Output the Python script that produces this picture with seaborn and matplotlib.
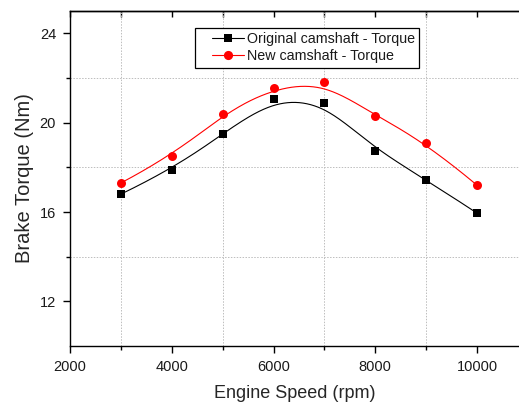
import numpy as np
import pandas as pd
import matplotlib
matplotlib.use("Agg")
import matplotlib.pyplot as plt
import seaborn as sns
from matplotlib.lines import Line2D
from matplotlib.legend_handler import HandlerLine2D
from matplotlib.ticker import FixedLocator

# Measured brake torque at each engine speed
speed_rpm = [3000, 4000, 5000, 6000, 7000, 8000, 9000, 10000]
torque_original = [16.8, 17.9, 19.5, 21.05, 20.9, 18.75, 17.45, 15.95]
torque_new = [17.3, 18.5, 20.4, 21.55, 21.8, 20.3, 19.1, 17.2]
series_labels = ["Original camshaft - Torque", "New camshaft - Torque"]
series_colors = ["black", "#ff0000"]
series_markers = ["s", "o"]


def bspline(xc, yc, n=400, k=3):
    """Clamped uniform cubic B-spline using the data points as control points."""
    P = np.column_stack([xc, yc]).astype(float)
    m = len(P)
    knots = np.concatenate([np.zeros(k), np.arange(m - k + 1),
                            np.full(k, m - k)]).astype(float)
    t = np.linspace(0, m - k, n)
    t[-1] -= 1e-9
    N = np.zeros((n, len(knots) - 1))
    for i in range(len(knots) - 1):
        N[:, i] = (knots[i] <= t) & (t < knots[i + 1])
    for d in range(1, k + 1):
        Nn = np.zeros((n, len(knots) - 1 - d))
        for i in range(len(knots) - 1 - d):
            left = 0.0
            right = 0.0
            den1 = knots[i + d] - knots[i]
            den2 = knots[i + d + 1] - knots[i + 1]
            if den1 > 0:
                left = (t - knots[i]) / den1 * N[:, i]
            if den2 > 0:
                right = (knots[i + d + 1] - t) / den2 * N[:, i + 1]
            Nn[:, i] = left + right
        N = Nn
    C = N @ P
    return C[:, 0], C[:, 1]


sns.set_theme(style="ticks")
plt.rcParams["font.family"] = ["Liberation Sans", "DejaVu Sans"]
plt.rcParams["axes.edgecolor"] = "black"
plt.rcParams["text.color"] = "#1a1a1a"

fig = plt.figure(figsize=(5.19, 4.04), dpi=100)
ax = fig.add_axes([70 / 519, 1 - 346 / 404, 1 - 70 / 519, (346 - 11) / 404])

points = pd.DataFrame({
    "speed": speed_rpm * 2,
    "torque": torque_original + torque_new,
    "series": [series_labels[0]] * len(speed_rpm) + [series_labels[1]] * len(speed_rpm),
})

handles = []
for label, color, marker in zip(series_labels, series_colors, series_markers):
    sub = points[points["series"] == label]
    xs, ys = bspline(sub["speed"].values, sub["torque"].values)
    curve = pd.DataFrame({"speed": xs, "torque": ys})
    sns.lineplot(data=curve, x="speed", y="torque", ax=ax, color=color,
                 linewidth=0.8, sort=False, estimator=None)
    sns.scatterplot(data=sub, x="speed", y="torque", ax=ax, color=color,
                    marker=marker, s=32 if marker == "s" else 42,
                    edgecolor=color, linewidth=0, zorder=3)
    handles.append(Line2D([], [], color=color, linewidth=0.8, marker=marker,
                          markersize=5.8 if marker == "s" else 6.6,
                          markeredgewidth=0, label=label))

ax.set_xlim(2000, 10825)
ax.set_ylim(10, 25)

ax.xaxis.set_major_locator(FixedLocator([2000, 4000, 6000, 8000, 10000]))
ax.xaxis.set_minor_locator(FixedLocator([3000, 5000, 7000, 9000]))
ax.yaxis.set_major_locator(FixedLocator([12, 16, 20, 24]))
ax.yaxis.set_minor_locator(FixedLocator([14, 18, 22]))

ax.grid(False)
ax.grid(which="minor", color="#bdbdbd", linestyle=(0, (1.5, 1.5)), linewidth=0.7)

ax.tick_params(axis="both", which="major", direction="out", length=5,
               width=1, labelsize=10.5, colors="black", labelcolor="#1a1a1a", pad=5)
ax.tick_params(axis="both", which="minor", direction="out", length=3, width=1,
               colors="black")

for side in ["left", "bottom", "top"]:
    ax.spines[side].set_visible(True)
    ax.spines[side].set_linewidth(1.0)
    ax.spines[side].set_color("black")
ax.spines["right"].set_visible(False)

top = ax.secondary_xaxis("top")
top.xaxis.set_major_locator(FixedLocator(list(range(2000, 11000, 1000))))
top.tick_params(direction="in", length=4, width=1, labeltop=False, colors="black")
top.spines["top"].set_linewidth(1.0)

ax.set_xlabel("Engine Speed (rpm)", fontsize=13, labelpad=8)
ax.set_ylabel("Brake Torque (Nm)", fontsize=14.5, labelpad=4)

leg = ax.legend(
    handles=handles, loc="upper left", bbox_to_anchor=(0.278, 0.949),
    borderaxespad=0, fontsize=10.3, frameon=True, fancybox=False,
    edgecolor="black", framealpha=1, handlelength=3.15, handletextpad=0.2,
    labelspacing=0.2, borderpad=0.3,
    handler_map={Line2D: HandlerLine2D(xpad=0.93)})
leg.get_frame().set_linewidth(0.9)

fig.savefig("out.png", dpi=100)
